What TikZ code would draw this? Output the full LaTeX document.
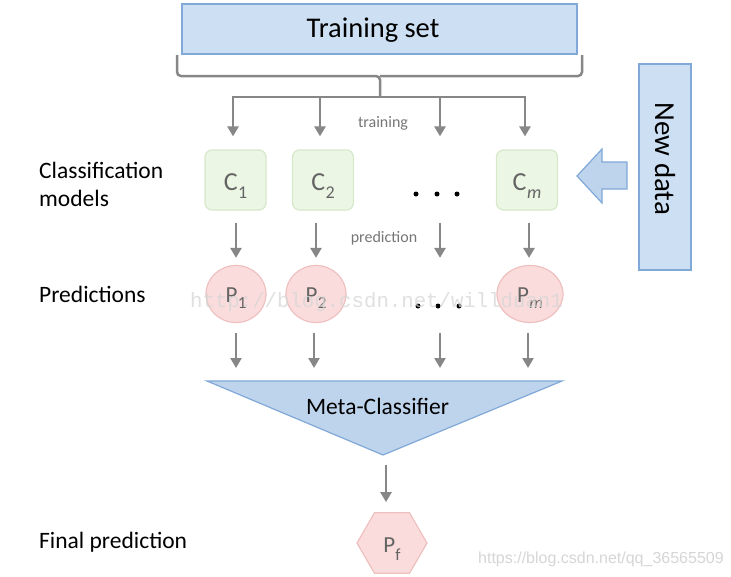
\documentclass[tikz,border=0pt]{standalone}
\usepackage{fontspec}
\setmainfont{Carlito}
\newfontfamily\wmsans{Liberation Sans}
\newfontfamily\wmmono{Liberation Mono}
\usetikzlibrary{arrows.meta,shapes.geometric}
\definecolor{arrowgray}{RGB}{135,135,135}
\definecolor{bluefill}{RGB}{205,223,243}
\definecolor{blueline}{RGB}{128,168,216}
\definecolor{metafill}{RGB}{190,212,236}
\definecolor{greenfill}{RGB}{236,246,229}
\definecolor{greenline}{RGB}{214,233,203}
\definecolor{pinkfill}{RGB}{251,220,220}
\definecolor{pinkline}{RGB}{239,192,192}
\definecolor{symgray}{RGB}{100,100,100}
\definecolor{lblgray}{RGB}{118,118,118}
\definecolor{wmgray}{RGB}{214,214,214}
\tikzset{
  conn/.style={draw=arrowgray, line width=2.5pt, -{Triangle[length=10pt,width=11pt]}},
  bracestyle/.style={draw=arrowgray, line width=2.5pt, rounded corners=4pt},
  bluebox/.style={draw=blueline, fill=bluefill, line width=1.2pt, inner sep=0pt},
  cbox/.style={draw=greenline, fill=greenfill, line width=1.2pt, rounded corners=7pt,
    minimum width=61pt, minimum height=60pt, inner sep=0pt, text=symgray,
    font=\fontsize{26}{30}\selectfont, text height=20pt, text depth=0pt},
  pcirc/.style={ellipse, draw=pinkline, fill=pinkfill, line width=1.2pt,
    minimum width=60pt, minimum height=57pt, inner sep=0pt, text=symgray,
    font=\fontsize{23}{27}\selectfont, text height=16pt, text depth=0pt},
  sidelabel/.style={font=\fontsize{23.5}{28}\selectfont, inner sep=0pt, align=left},
  smalllabel/.style={font=\fontsize{16}{18}\selectfont, text=lblgray, inner sep=0pt},
  dotmark/.style={circle, fill=black, minimum size=5pt, inner sep=0pt},
}
\newcommand{\csub}[1]{\kern0.5pt\raisebox{-8pt}{\fontsize{18}{18}\selectfont #1}}
\newcommand{\psub}[1]{\kern0.5pt\raisebox{-6pt}{\fontsize{17}{17}\selectfont #1}}
\begin{document}
\begin{tikzpicture}[x=1pt,y=-1pt]
\useasboundingbox (0,0) rectangle (731,576);
\fill[white] (0,0) rectangle (731,576);

% training set
\node[bluebox, minimum width=395pt, minimum height=50pt] (train) at (379.5,29) {};
\node[anchor=base, inner sep=0pt, font=\fontsize{28.5}{33}\selectfont] (traintxt) at (373,37.5) {Training set};

% brace
\coordinate (bl) at (177,55);
\coordinate (br) at (582,55);
\coordinate (bm) at (380,76);
\coordinate (t1) at (233,97);
\coordinate (t2) at (320,97);
\coordinate (t3) at (440,97);
\coordinate (t4) at (525,97);
\draw[bracestyle] (bl) |- (bm) -- (bm |- t1);
\draw[bracestyle] (br) |- (bm);
\draw[draw=arrowgray, line width=2.5pt] ([xshift=-1.2pt]t1) -- ([xshift=1.2pt]t4);

% classifiers
\node[cbox] (c1) at (235.5,180) {C\csub{1}};
\node[cbox] (c2) at (323,180) {C\csub{2}};
\node[cbox] (cm) at (527,180) {C\csub{\itshape m}};
\node[dotmark] (cd1) at (416,194) {};
\node[dotmark] (cd2) at (437,194) {};
\node[dotmark] (cd3) at (457,194) {};

% predictions
\node[pcirc] (p1) at (236,294) {P\psub{1}};
\node[pcirc] (p2) at (316,294) {P\psub{2}};
\node[pcirc, minimum width=66pt] (pm) at (530,294) {P\psub{\itshape m}};
\node[dotmark] (pd1) at (418,306) {};
\node[dotmark] (pd2) at (438,306) {};
\node[dotmark] (pd3) at (459,306) {};

% meta classifier
\coordinate (ml) at (207,381);
\coordinate (mr) at (562,381);
\coordinate (apex) at (383,455);
\coordinate (mtop) at (383,381);
\filldraw[draw=blueline, fill=metafill, line width=1.2pt, line join=miter] (ml) -- (mr) -- (apex) -- cycle;
\node[anchor=base, inner sep=0pt, font=\fontsize{23.5}{27}\selectfont] (meta) at (377.5,414) {Meta-Classifier};

% final
\node[regular polygon, regular polygon sides=6, minimum size=70pt, inner sep=0pt,
  draw=pinkline, fill=pinkfill, line width=1.2pt, text=symgray,
  font=\fontsize{23}{27}\selectfont, text height=18pt, text depth=0pt] (pf) at (392,543) {P\raisebox{-8pt}{\fontsize{17}{17}\selectfont f}};
\coordinate (mout) at (386,455);

% new data
\node[bluebox, minimum width=206pt, minimum height=52pt, rotate=-90,
  font=\fontsize{29}{33}\selectfont] (newdata) at (665,167) {New data\rule{16pt}{0pt}};
\coordinate (ntip) at (577,176);
\filldraw[draw=blueline, fill=metafill, line width=1.2pt, line join=miter]
  (ntip) -- (602,149) -- (602,162) -- (627,162) -- (627,189) -- (602,189) -- (602,203) -- cycle;

% connectors: training
\draw[conn, shorten >=13pt] (t1) -- (t1 |- c1.north);
\draw[conn, shorten >=13pt] (t2) -- (t2 |- c2.north);
\draw[conn, shorten >=13pt] (t3) -- (t3 |- cm.north);
\draw[conn, shorten >=13pt] (t4) -- (t4 |- cm.north);
% classifiers to predictions
\draw[conn, shorten <=12pt, shorten >=7pt] (p1.north |- c1.south) -- (p1.north);
\draw[conn, shorten <=12pt, shorten >=7pt] (p2.north |- c2.south) -- (p2.north);
\draw[conn, shorten <=12pt, shorten >=7pt] (t3 |- c1.south) -- (t3 |- p1.north);
\draw[conn, shorten <=12pt, shorten >=7pt] ([xshift=-1pt]pm.north |- cm.south) -- ([xshift=-1pt]pm.north);
% predictions to meta
\draw[conn, shorten <=10pt, shorten >=13pt] (p1.south) -- (p1.south |- mtop);
\draw[conn, shorten <=10pt, shorten >=13pt] ([xshift=-2pt]p2.south) -- ([xshift=-2pt]p2.south |- mtop);
\draw[conn, shorten <=10pt, shorten >=13pt] (t3 |- p1.south) -- (t3 |- mtop);
\draw[conn, shorten <=10pt, shorten >=13pt] ([xshift=-2pt]pm.south) -- ([xshift=-2pt]pm.south |- mtop);
% meta to final
\draw[conn, shorten <=10pt, shorten >=10pt] (mout) -- (mout |- pf.north);

% small labels
\node[smalllabel, anchor=base] (trl) at (383,127) {training};
\node[smalllabel, anchor=base] (prl) at (384,242) {prediction};

% side labels
\node[sidelabel, anchor=north west, text height=46pt] (lclass) at (39,160) {Classification\\models};
\node[sidelabel, anchor=base west] (lpred) at (39,302) {Predictions};
\node[sidelabel, anchor=base west] (lfinal) at (39,548) {Final prediction};

% watermarks
\node[anchor=base west, inner sep=0pt, text=wmgray, opacity=0.75, font=\wmmono\fontsize{20.7}{22}\selectfont] (wm1) at (190,307) {http://blog.csdn.net/willduan1};
\node[anchor=base west, inner sep=0pt, text=wmgray, font=\wmsans\fontsize{16}{18}\selectfont] (wm2) at (478,563) {https://blog.csdn.net/qq\_36565509};
\end{tikzpicture}
\end{document}
